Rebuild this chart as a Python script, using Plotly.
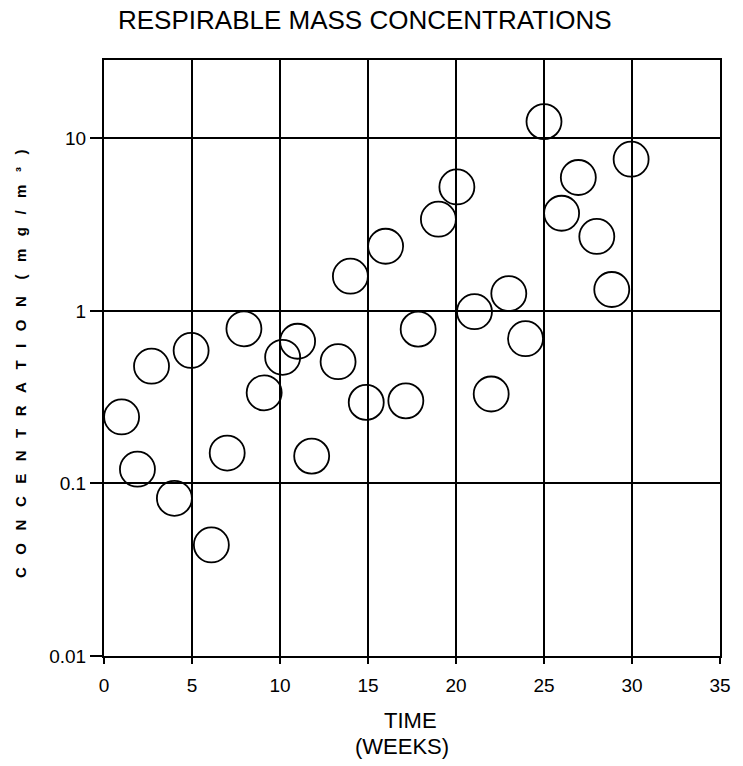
import plotly.graph_objects as go

weeks = [1.0, 1.9, 2.7, 4.0, 4.95, 6.1, 7.0, 7.95, 9.1, 10.15, 11.0, 11.8, 13.3, 14.0, 14.9,
         16.0, 17.15, 17.85, 19.0, 20.05, 21.05, 22.0, 23.0, 23.95, 25.0, 26.0, 26.95, 28.0, 28.85, 29.95]
conc = [0.243, 0.121, 0.478, 0.082, 0.59, 0.044, 0.15, 0.787, 0.335, 0.538, 0.667, 0.144, 0.508, 1.59, 0.295,
        2.37, 0.301, 0.784, 3.4, 5.23, 0.99, 0.33, 1.26, 0.69, 12.5, 3.68, 5.93, 2.7, 1.33, 7.57]

x_ticks = [0, 5, 10, 15, 20, 25, 30, 35]
y_ticks = [0.01, 0.1, 1, 10]
y_tick_labels = ["0.01", "0.1", "1", "10"]

FONT = "Liberation Sans, Arial, Helvetica, sans-serif"

sp = "&nbsp;&nbsp;&nbsp;"
ytitle = sp.join("CONCENTRATION") + sp + "&nbsp;" + sp.join("(mg/m³)")

fig = go.Figure()
fig.add_trace(go.Scatter(
    x=weeks, y=conc, mode="markers",
    marker=dict(symbol="circle-open", size=35, color="black", line=dict(width=1.8, color="black")),
    showlegend=False, hoverinfo="skip"))

fig.update_layout(
    width=743, height=766,
    margin=dict(l=104, r=20, t=60, b=110),
    paper_bgcolor="white", plot_bgcolor="white",
    font=dict(family=FONT, color="black"),
    xaxis=dict(range=[0, 35], tickvals=x_ticks, ticktext=[str(v) for v in x_ticks],
               showgrid=True, gridcolor="black", gridwidth=1.5,
               showline=True, linecolor="black", linewidth=2, mirror=True,
               ticks="outside", ticklen=6, tickwidth=1.5, tickcolor="black",
               ticklabelstandoff=5,
               tickfont=dict(size=19, family=FONT), zeroline=False),
    yaxis=dict(type="log", range=[-2, 1.454], tickvals=y_ticks, ticktext=y_tick_labels,
               showgrid=True, gridcolor="black", gridwidth=1.8,
               showline=True, linecolor="black", linewidth=2, mirror=True,
               ticks="outside", ticklen=12, tickwidth=1.5, tickcolor="black",
               tickfont=dict(size=19, family=FONT), zeroline=False),
    annotations=[
        dict(text="RESPIRABLE MASS CONCENTRATIONS", xref="paper", yref="paper",
             x=0.02, y=1, xanchor="left", yanchor="middle", yshift=40, showarrow=False,
             font=dict(size=26, family=FONT)),
        dict(text="TIME", xref="paper", yref="paper", x=0.497, y=0, xanchor="center",
             yanchor="middle", yshift=-64, showarrow=False, font=dict(size=22, family=FONT)),
        dict(text="(WEEKS)", xref="paper", yref="paper", x=0.484, y=0, xanchor="center",
             yanchor="middle", yshift=-90, showarrow=False, font=dict(size=22, family=FONT)),
        dict(text="<b>" + ytitle + "</b>", xref="paper", yref="paper",
             x=0, y=0.49, xanchor="center", yanchor="middle", xshift=-83, textangle=-90,
             showarrow=False, font=dict(size=15, family=FONT)),
    ],
)

fig.write_html("out.html")
